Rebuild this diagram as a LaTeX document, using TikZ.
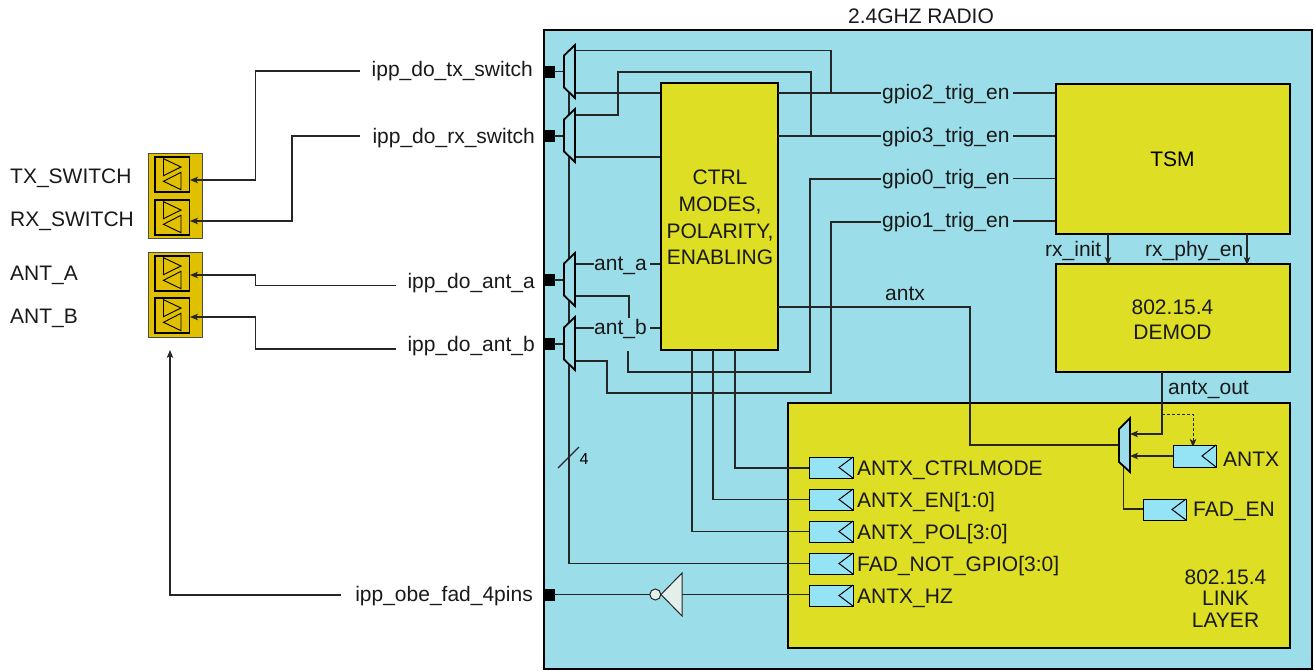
\documentclass[tikz,border=0pt]{standalone}
\usepackage{fontspec}
\setmainfont{Liberation Sans}
\usetikzlibrary{arrows.meta}
\definecolor{radiobg}{HTML}{9BDEEA}
\definecolor{blockyel}{HTML}{DEDE24}
\definecolor{padyel}{HTML}{E0C000}
\definecolor{regblue}{HTML}{95E4F5}
\definecolor{invfill}{HTML}{E2EFEA}
\tikzset{x=1pt,y=-1pt,
  lbl/.style={font=\fontsize{21}{24}\selectfont,inner sep=0pt,text=black!90},
  wire/.style={draw=black!85,line width=1.1pt},
  arr/.style={wire,-{Stealth[length=8pt,width=6.5pt,inset=2pt]}},
  block/.style={draw=black,fill=blockyel,line width=2pt,inner sep=0pt,outer sep=0pt,font=\fontsize{21}{25}\selectfont,align=center},
  muxshape/.style={draw=black,fill=radiobg,line width=1.8pt},
  pad/.style={fill=black,draw=none},
}
\newcommand{\muxat}[2]{% x-left, y-top-right
  \draw[muxshape] (#1,#2+10.5) -- (#1+11,#2) -- (#1+11,#2+53) -- (#1,#2+42.5) -- cycle;}
\newcommand{\buf}[2]{% inner box top-left
  \draw[line width=1.6pt,fill=padyel] (#1,#2) rectangle (#1+34.5,#2+35);
  \draw[line width=0.9pt] (#1+8.5,#2+1.7) -- (#1+26,#2+10) -- (#1+8.5,#2+18.7) -- cycle;
  \draw[line width=0.9pt] (#1+26,#2+15.3) -- (#1+8.5,#2+24.3) -- (#1+26,#2+32.7) -- cycle;}
\newcommand{\regbox}[4]{% x,y,w,h
  \draw[draw=black,line width=1pt,fill=regblue] (#1,#2) rectangle (#1+#3,#2+#4);
  \draw[draw=black,line width=1pt] (#1+#3,#2) -- (#1+#3-14,#2+#4/2) -- (#1+#3,#2+#4);}
\begin{document}
\begin{tikzpicture}
\useasboundingbox (0,0) rectangle (1314,670);
% radio frame
\node[lbl,anchor=base] (title) at (921,23) {2.4GHZ RADIO};
\node[draw=black,fill=radiobg,line width=2pt,outer sep=0pt,minimum width=768.5pt,minimum height=639pt,inner sep=0pt,anchor=north west] (radio) at (543.5,29.5) {};
% select line
\coordinate (selT) at (569,93);
\coordinate (selB) at (569,563);
% blocks
\node[block,minimum width=117.5pt,minimum height=266.5pt,anchor=north west] (ctrl) at (660.5,83) {};
\node[block,minimum width=234pt,minimum height=150pt,anchor=north west] (tsm) at (1055.5,84) {TSM};
\node[block,minimum width=234pt,minimum height=107.5pt,anchor=north west] (demod) at (1055.5,264) {};
\node[lbl,align=center,font=\fontsize{21}{25}\selectfont] (demodtxt) at (1172.5,319.5) {802.15.4\\DEMOD};
\node[block,minimum width=502pt,minimum height=245pt,anchor=north west] (link) at (788,403) {};
% reg boxes
\coordinate (rctrl) at (809,468);
\coordinate (ren) at (809,499.5);
\coordinate (rpol) at (809,531.5);
\coordinate (rfad) at (809,563.5);
\coordinate (rhz) at (809,594.5);
% wires inside
\draw[wire] (selT) -- (569,563.5) -- (rfad);
\draw[wire] (692,350) -- (692,531.5) -- (rpol);
\draw[wire] (713,350) -- (713,499.5) -- (ren);
\draw[wire] (735,350) -- (735,468) -- (rctrl);
\draw[wire] (558,468) -- (579,447);
\node[inner sep=0pt,font=\fontsize{16}{18}\selectfont] (four) at (584,459) {4};
% mux wires
\draw[wire] (575,50.5) -- (831,50.5) -- (831,93);
\draw[wire] (575,93) -- (660,93);
\draw[wire] (778,93) -- (881,93);
\draw[wire] (575,115) -- (618,115) -- (618,72) -- (811,72) -- (811,136);
\draw[wire] (575,157) -- (660,157);
\draw[wire] (778,136) -- (881,136);
\draw[wire] (575,264) -- (594,264);
\draw[wire] (650,264) -- (660,264);
\draw[wire] (575,328) -- (594,328);
\draw[wire] (650,328) -- (660,328);
\draw[wire] (575,296) -- (629,296) -- (629,318);
\draw[wire] (628,351) -- (628,372) -- (810,372) -- (810,179) -- (881,179);
\draw[wire] (575,361) -- (607,361) -- (607,393) -- (831,393) -- (831,222) -- (881,222);
% gpio labels
\node[lbl,anchor=base west] (g2) at (882,99) {gpio2\_trig\_en};
\node[lbl,anchor=base west] (g3) at (882,142) {gpio3\_trig\_en};
\node[lbl,anchor=base west] (g0) at (882,184) {gpio0\_trig\_en};
\node[lbl,anchor=base west] (g1) at (882,227) {gpio1\_trig\_en};
\draw[wire] (1013,93) -- (1055,93);
\draw[wire] (1013,136) -- (1055,136);
\draw[wire] (1013,178.5) -- (1055,178.5);
\draw[wire] (1013,221) -- (1055,221);
% TSM to demod
\draw[arr] (1108,234) -- (1108,265);
\draw[arr] (1247,234) -- (1247,265);
\node[lbl,anchor=base west] (rxi) at (1045,256) {rx\_init};
\node[lbl,anchor=base west] (rxp) at (1145,256) {rx\_phy\_en};
\node[lbl,anchor=base west] (antxl) at (885,300) {antx};
\node[lbl,anchor=base west] (antxo) at (1168,394) {antx\_out};
% antx mux
\draw[wire] (778,307) -- (970,307) -- (970,445) -- (1119,445);
\draw[arr] (1162,372) -- (1162,434) -- (1130,434);
\draw[arr,line width=.8pt,dash pattern=on 3pt off 2pt] (1162,414) -- (1193,414) -- (1193,447);
\draw[arr] (1173,456) -- (1130,456);
\draw[wire] (1123.5,465) -- (1123.5,509) -- (1143,509);
\draw[muxshape] (1119,429) -- (1130,418) -- (1130,472) -- (1119,462) -- cycle;
\regbox{1173}{445}{43}{22}
\regbox{1143}{499}{43}{21}
\node[lbl,anchor=base west] (antxr) at (1223,466) {ANTX};
\node[lbl,anchor=base west] (fadr) at (1193,516) {FAD\_EN};
% registers
\regbox{809}{457}{44}{21}
\regbox{809}{489}{44}{21}
\regbox{809}{521}{44}{21}
\regbox{809}{553}{44}{21}
\regbox{809}{585}{44}{21}
\node[lbl,anchor=base west] (l1) at (857,475) {ANTX\_CTRLMODE};
\node[lbl,anchor=base west] (l2) at (857,507) {ANTX\_EN[1:0]};
\node[lbl,anchor=base west] (l3) at (857,539) {ANTX\_POL[3:0]};
\node[lbl,anchor=base west] (l4) at (857,571) {FAD\_NOT\_GPIO[3:0]};
\node[lbl,anchor=base west] (l5) at (857,603) {ANTX\_HZ};
\node[lbl,align=center,font=\fontsize{21}{21.5}\selectfont] (ll) at (1225.5,598.5) {802.15.4\\LINK\\LAYER};
% ctrl text
\node[lbl,align=center,font=\fontsize{21}{26.7}\selectfont] (ctrltxt) at (720,217.5) {CTRL\\MODES,\\POLARITY,\\ENABLING};
\node[lbl,anchor=base west] (anta) at (594,270) {ant\_a};
\node[lbl,anchor=base west] (antb) at (594,334) {ant\_b};
% pads + muxes
\foreach \yy in {71.5,136,280,344,594.5}{
  \fill[pad] (543,\yy-6) rectangle (554.5,\yy+6);}
\draw[wire] (554,71.5) -- (564,71.5);
\draw[wire] (554,136) -- (564,136);
\draw[wire] (554,280) -- (564,280);
\draw[wire] (554,344) -- (564,344);
\muxat{564}{45}
\muxat{564}{109}
\muxat{564}{253}
\muxat{564}{317}
% inverter
\draw[wire] (554,594.5) -- (650,594.5);
\draw[wire] (682,594.5) -- (rhz);
\draw[draw=black!85,fill=invfill,line width=1pt] (682,573) -- (661,594.5) -- (682,616) -- cycle;
\draw[draw=black!85,fill=invfill,line width=1pt] (655.3,594.5) circle (5.5);
% outside labels
\node[lbl,anchor=base east] (o1) at (533,76) {ipp\_do\_tx\_switch};
\node[lbl,anchor=base east] (o2) at (535,143) {ipp\_do\_rx\_switch};
\node[lbl,anchor=base east] (o3) at (535,288) {ipp\_do\_ant\_a};
\node[lbl,anchor=base east] (o4) at (535,351) {ipp\_do\_ant\_b};
\node[lbl,anchor=base east] (o5) at (533,601) {ipp\_obe\_fad\_4pins};
\node[lbl,anchor=base west] (n1) at (10,183) {TX\_SWITCH};
\node[lbl,anchor=base west] (n2) at (10,226) {RX\_SWITCH};
\node[lbl,anchor=base west] (n3) at (10,280) {ANT\_A};
\node[lbl,anchor=base west] (n4) at (10,323) {ANT\_B};
% io bufs
\draw[fill=padyel,draw=black!70,line width=1pt] (148,153) rectangle (202,238);
\draw[fill=padyel,draw=black!70,line width=1pt] (148,252) rectangle (202,337);
\buf{155}{157}
\buf{155}{200}
\buf{155}{256}
\buf{155}{298}
\draw[arr] (360,71) -- (255.5,71) -- (255.5,180) -- (190,180);
\draw[arr] (360,136) -- (292,136) -- (292,221) -- (190,221);
\draw[arr] (396,285.5) -- (255.5,285.5) -- (255.5,275) -- (190,275);
\draw[arr] (396,349) -- (255.5,349) -- (255.5,317) -- (190,317);
\draw[arr] (341,595) -- (170,595) -- (170,350);
\end{tikzpicture}
\end{document}
